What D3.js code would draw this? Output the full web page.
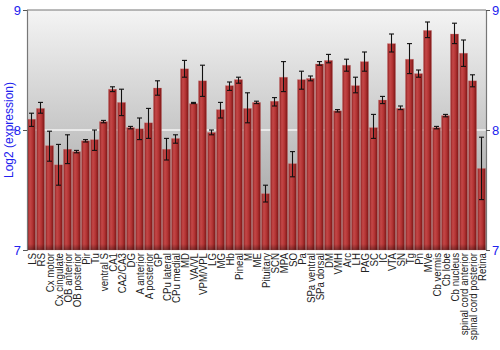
<!DOCTYPE html>
<html>
<head>
<meta charset="utf-8">
<script src="https://cdn.jsdelivr.net/npm/d3@7"></script>
<style>
  body { margin: 0; background: #fff; }
  svg { display: block; font-family: "Liberation Sans", Arial, sans-serif; }
</style>
</head>
<body>
<svg width="500" height="350"></svg>
<script>
var regions = ["LS", "RS", "Cx motor", "Cx cingulate", "OB anterior", "OB posterior", "Pir", "Tu",
    "ventral S", "CA1", "CA2/CA3", "DG", "A anterior", "A posterior", "GP", "CPu lateral", "CPu medial",
    "MD", "VA/VL", "VPM/VPL", "LG", "MG", "Hb", "Pineal", "M", "ME", "Pituitary", "SCN", "MPA", "SO",
    "Pa", "SPa ventral", "SPa dorsal", "DM", "VMH", "Arc", "LH", "PAG", "SC", "IC", "VTA", "SN", "Tg",
    "Pn", "MVe", "Cb vermis", "Cb lobe", "Cb nucleus", "spinal cord anterior", "spinal cord posterior", "Retina"];

var means = [8.09, 8.18, 7.87, 7.71, 7.84, 7.82, 7.91, 7.92,
    8.07, 8.34, 8.23, 8.02, 8.01, 8.06, 8.35, 7.84, 7.93,
    8.51, 8.22, 8.41, 7.98, 8.17, 8.37, 8.42, 8.18, 8.23, 7.47, 8.24, 8.44, 7.72,
    8.42, 8.43, 8.55, 8.58, 8.16, 8.54, 8.37, 8.57, 8.02, 8.25, 8.72, 8.18, 8.59,
    8.47, 8.83, 8.02, 8.12, 8.80, 8.64, 8.41, 7.68];

var errLow = [8.03, 8.14, 7.74, 7.54, 7.72, 7.81, 7.90, 7.83,
    8.06, 8.32, 8.12, 8.01, 7.92, 7.93, 8.29, 7.75, 7.89,
    8.44, 8.22, 8.28, 7.96, 8.10, 8.33, 8.39, 8.06, 8.22, 7.40, 8.20, 8.32, 7.61,
    8.34, 8.41, 8.54, 8.56, 8.15, 8.49, 8.31, 8.49, 7.93, 8.22, 8.65, 8.17, 8.47,
    8.44, 8.77, 8.01, 8.11, 8.72, 8.53, 8.36, 7.42];

var errHigh = [8.14, 8.23, 7.99, 7.88, 7.96, 7.83, 7.92, 8.00,
    8.08, 8.36, 8.34, 8.03, 8.10, 8.18, 8.41, 7.93, 7.96,
    8.58, 8.23, 8.54, 8.00, 8.23, 8.40, 8.44, 8.31, 8.24, 7.54, 8.27, 8.57, 7.82,
    8.49, 8.45, 8.57, 8.63, 8.17, 8.59, 8.44, 8.65, 8.13, 8.28, 8.80, 8.20, 8.72,
    8.50, 8.90, 8.03, 8.13, 8.89, 8.75, 8.46, 7.94];

var yTicks = [7, 8, 9];

var svg = d3.select("svg");
var plotL = 27, plotR = 486, plotT = 10, plotB = 250;

var x = d3.scaleBand().domain(regions).range([plotL, plotR]).paddingInner(0.1).paddingOuter(0.05);
var y = d3.scaleLinear().domain([7, 9]).range([plotB, plotT]);

var defs = svg.append("defs");
var bg = defs.append("linearGradient").attr("id", "bg")
    .attr("x1", 0).attr("y1", 0).attr("x2", 0).attr("y2", 1);
bg.append("stop").attr("offset", "0%").attr("stop-color", "#f4f4f4");
bg.append("stop").attr("offset", "100%").attr("stop-color", "#9a9a9a");

var bar = defs.append("linearGradient").attr("id", "bar")
    .attr("x1", 0).attr("y1", 0).attr("x2", 1).attr("y2", 0);
bar.append("stop").attr("offset", "0%").attr("stop-color", "#8e1f1f");
bar.append("stop").attr("offset", "30%").attr("stop-color", "#c44848");
bar.append("stop").attr("offset", "60%").attr("stop-color", "#b53535");
bar.append("stop").attr("offset", "100%").attr("stop-color", "#7a1414");

var shade = defs.append("linearGradient").attr("id", "shade")
    .attr("x1", 0).attr("y1", 0).attr("x2", 0).attr("y2", 1);
shade.append("stop").attr("offset", "0%").attr("stop-color", "#000").attr("stop-opacity", 0);
shade.append("stop").attr("offset", "100%").attr("stop-color", "#000").attr("stop-opacity", 0.35);

svg.append("rect")
    .attr("x", plotL).attr("y", plotT)
    .attr("width", plotR - plotL).attr("height", plotB - plotT)
    .attr("fill", "url(#bg)");

// gridline at 8
svg.append("line")
    .attr("x1", plotL).attr("x2", plotR)
    .attr("y1", y(8)).attr("y2", y(8))
    .attr("stroke", "#f4f4f4").attr("stroke-width", 1.5);

svg.selectAll("rect.bar")
    .data(regions)
    .enter().append("rect")
    .attr("class", "bar")
    .attr("x", function (d) { return x(d); })
    .attr("y", function (d, i) { return y(means[i]); })
    .attr("width", x.bandwidth())
    .attr("height", function (d, i) { return plotB - y(means[i]); })
    .attr("fill", "url(#bar)")
    .attr("stroke", "#d88a8a").attr("stroke-opacity", 0.5).attr("stroke-width", 0.6);

svg.selectAll("rect.foot")
    .data(regions)
    .enter().append("rect")
    .attr("class", "foot")
    .attr("x", function (d) { return x(d); })
    .attr("y", plotB - 6)
    .attr("width", x.bandwidth())
    .attr("height", 6)
    .attr("fill", "url(#shade)");

var err = svg.selectAll("g.err")
    .data(regions)
    .enter().append("g")
    .attr("class", "err")
    .attr("transform", function (d) { return "translate(" + (x(d) + x.bandwidth() / 2) + ",0)"; })
    .attr("stroke", "#111").attr("stroke-width", 1.1);
err.append("line")
    .attr("y1", function (d, i) { return y(errLow[i]); })
    .attr("y2", function (d, i) { return y(errHigh[i]); });
err.append("line")
    .attr("x1", -2.5).attr("x2", 2.5)
    .attr("y1", function (d, i) { return y(errLow[i]); })
    .attr("y2", function (d, i) { return y(errLow[i]); });
err.append("line")
    .attr("x1", -2.5).attr("x2", 2.5)
    .attr("y1", function (d, i) { return y(errHigh[i]); })
    .attr("y2", function (d, i) { return y(errHigh[i]); });

// frame
svg.append("line").attr("x1", plotL).attr("x2", plotR).attr("y1", plotT).attr("y2", plotT)
    .attr("stroke", "#777").attr("stroke-width", 1.2);

var leftAxis = svg.append("g")
    .attr("transform", "translate(" + plotL + ",0)")
    .call(d3.axisLeft(y).tickValues(yTicks).tickFormat(d3.format("d")).tickSize(4).tickPadding(2));
var rightAxis = svg.append("g")
    .attr("transform", "translate(" + plotR + ",0)")
    .call(d3.axisRight(y).tickValues(yTicks).tickFormat(d3.format("d")).tickSize(4).tickPadding(2));
[leftAxis, rightAxis].forEach(function (a) {
    a.select(".domain").attr("stroke", "#777").attr("stroke-width", 1.2);
    a.selectAll(".tick line").attr("stroke", "#555");
    a.selectAll(".tick text").attr("fill", "#2222ee").style("font-size", "13px")
        .style("font-family", "'Liberation Sans', Arial, sans-serif");
});

svg.append("text")
    .attr("transform", "translate(13," + ((plotT + plotB) / 2) + ") rotate(-90)")
    .attr("text-anchor", "middle")
    .attr("fill", "#2222ee")
    .style("font-size", "12px")
    .text("Log2 (expression)");

// category labels, a little squeezed along their length like the original
svg.selectAll("text.lab")
    .data(regions)
    .enter().append("text")
    .attr("class", "lab")
    .attr("transform", function (d) {
        return "translate(" + (x(d) + x.bandwidth() / 2 + 4) + "," + (plotB + 3) + ") rotate(-90) scale(0.88,1)";
    })
    .attr("text-anchor", "end")
    .attr("fill", "#222")
    .style("font-size", "11px")
    .text(function (d) { return d; });
</script>
</body>
</html>
